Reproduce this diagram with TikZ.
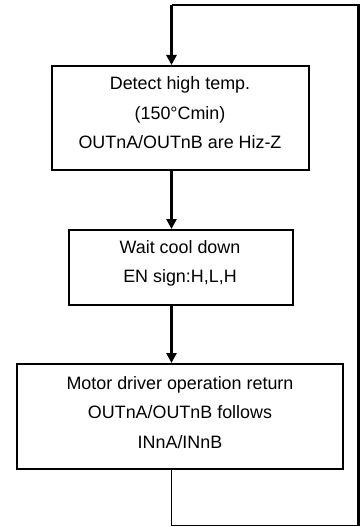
\documentclass[tikz,border=0pt]{standalone}
\usepackage{fontspec}
\setmainfont{Liberation Sans}
\usetikzlibrary{arrows.meta}
\begin{document}
\begin{tikzpicture}[x=1pt,y=-1pt,
  box/.style={draw,line width=2.2pt,rectangle,inner sep=0pt,anchor=north west},
  txt/.style={align=center,font=\fontsize{17.9}{29.5}\selectfont,inner sep=0pt},
  flow/.style={line width=2.6pt,-{Triangle[width=10pt,length=10pt]}},
  loop/.style={line width=2.3pt}]
\useasboundingbox (0,0) rectangle (361,527);
% boxes
\node[box,minimum width=257pt,minimum height=104pt] (b1) at (51,65) {};
\node[box,minimum width=224pt,minimum height=75pt] (b2) at (68,229) {};
\node[box,minimum width=326pt,minimum height=105pt] (b3) at (16,363) {};
% texts
\node[txt] (t1) at (180,113) {Detect high temp.\\(150°Cmin)\\OUTnA/OUTnB are Hiz-Z};
\node[txt] (t2) at (180,263.5) {Wait cool down\\EN sign:H,L,H};
\node[txt] (t3) at (180,412.5) {Motor driver operation return\\OUTnA/OUTnB follows\\INnA/INnB};
% loop coordinates
\coordinate (ax) at (171.5,0);
\coordinate (bl) at (171.5,525.5);
\coordinate (br) at (358.5,525.5);
\coordinate (tr) at (358.5,5);
\coordinate (tl) at (171.5,5);
% connectors
\draw[flow] (b1.south -| ax) -- (b2.north -| ax);
\draw[flow] (b2.south -| ax) -- (b3.north -| ax);
\draw[line width=1.8pt] (b3.south -| ax) -- (bl);
\draw[line width=1.2pt] (bl) -- (br);
\draw[loop] (br) -- (tr) -- (tl);
\draw[flow] (tl) -- (b1.north -| ax);
\end{tikzpicture}
\end{document}
